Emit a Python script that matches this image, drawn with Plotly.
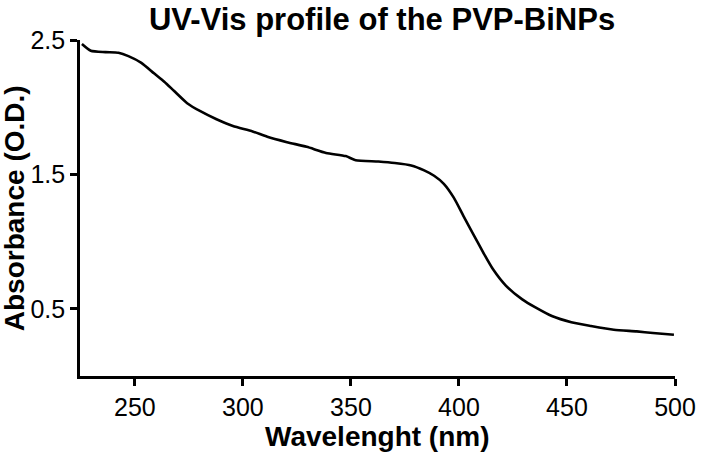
import plotly.graph_objects as go

wavelength = [225.5, 229.6, 236.4, 242.4, 247.0, 253.0, 259.0, 263.6, 268.2, 274.2,
              280.3, 287.8, 295.4, 304.5, 311.3, 320.4, 329.5, 338.5, 347.6, 352.2,
              362.7, 370.3, 377.9, 383.9, 388.5, 393.0, 397.6, 402.1, 406.6, 411.2,
              415.7, 421.7, 429.3, 435.4, 443.0, 452.0, 461.1, 471.7, 482.3, 489.8, 499.5]
absorbance = [2.47, 2.42, 2.41, 2.405, 2.38, 2.33, 2.25, 2.19, 2.12, 2.03,
              1.97, 1.91, 1.86, 1.82, 1.78, 1.74, 1.705, 1.66, 1.636, 1.606,
              1.596, 1.585, 1.567, 1.53, 1.49, 1.43, 1.327, 1.19, 1.056, 0.92,
              0.796, 0.673, 0.57, 0.51, 0.446, 0.40, 0.372, 0.344, 0.332, 0.32, 0.307]

x_ticks = [250, 300, 350, 400, 450, 500]
y_ticks = [0.5, 1.5, 2.5]
y_tick_labels = ["0.5", "1.5", "2.5"]

title_text = "UV-Vis profile of the PVP-BiNPs"
x_title = "Wavelenght (nm)"
y_title = "Absorbance (O.D.)"

FONT = "Liberation Sans, Arial, sans-serif"

fig = go.Figure()
fig.add_trace(go.Scatter(x=wavelength, y=absorbance, mode="lines",
                         line=dict(color="black", width=2.6, shape="spline", smoothing=0.6),
                         showlegend=False, hoverinfo="skip"))

fig.update_layout(
    width=708, height=453,
    margin=dict(l=80, r=22, t=40, b=77),
    paper_bgcolor="white", plot_bgcolor="white",
    font=dict(family=FONT, color="black"),
    title=dict(text="<b>" + title_text + "</b>", x=382 / 708, xanchor="center",
               y=1 - 19 / 453, yanchor="middle", yref="container",
               font=dict(size=31, family=FONT, color="black")),
    xaxis=dict(range=[224.6, 500], tickvals=x_ticks, ticks="outside", ticklen=7,
               tickwidth=2.5, tickcolor="black", showline=True, linewidth=2.6,
               linecolor="black", showgrid=False, zeroline=False,
               tickfont=dict(size=25, family=FONT, color="black")),
    yaxis=dict(range=[0, 2.5], tickvals=y_ticks, ticktext=y_tick_labels,
               ticks="outside", ticklen=7, tickwidth=2.5, tickcolor="black",
               showline=True, linewidth=2.6, linecolor="black", showgrid=False,
               zeroline=False, tickfont=dict(size=25, family=FONT, color="black")),
    annotations=[
        dict(text="<b>" + x_title + "</b>", xref="paper", yref="paper",
             x=(383 - 80) / 606, y=-(436 - 376) / 336, xanchor="center", yanchor="middle",
             showarrow=False, font=dict(size=28, family=FONT, color="black")),
        dict(text="<b>" + y_title + "</b>", xref="paper", yref="paper",
             x=-(80 - 13) / 606, y=0.5, xanchor="center", yanchor="middle",
             textangle=-90, showarrow=False,
             font=dict(size=28, family=FONT, color="black")),
    ],
)

fig.write_html("out.html", config={"displayModeBar": False},
               post_script="document.body.style.margin='0';document.body.style.overflow='hidden';")
